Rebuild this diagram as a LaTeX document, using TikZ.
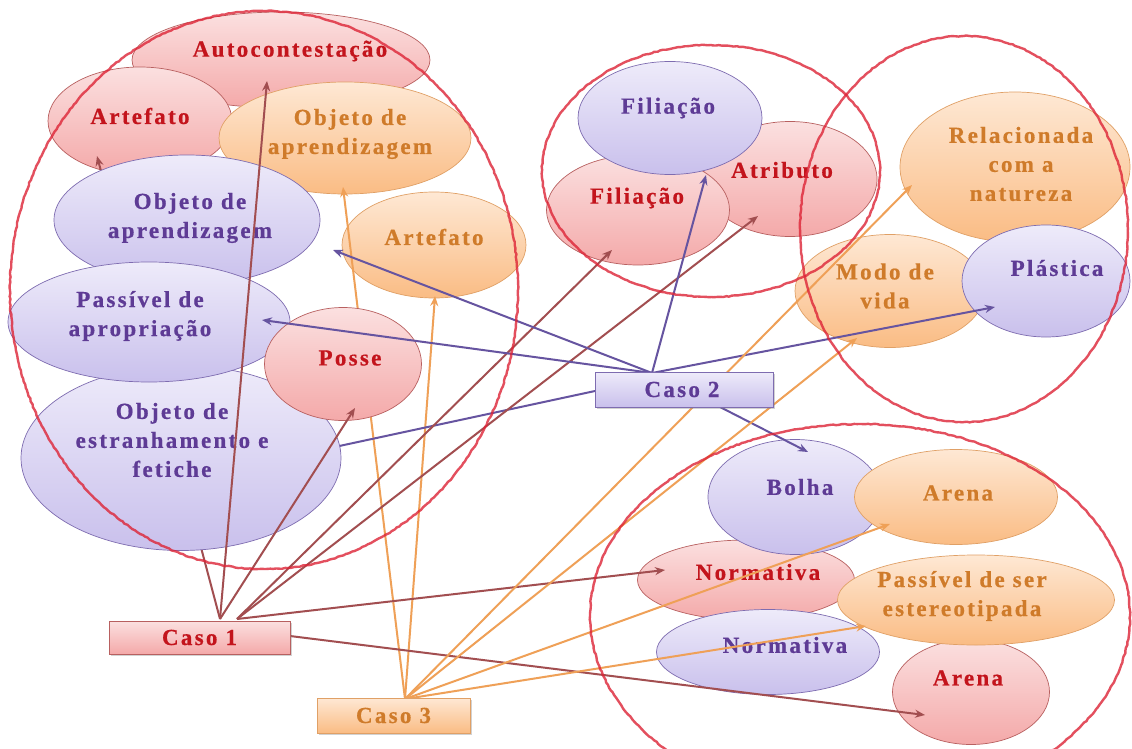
\documentclass[tikz,border=0pt]{standalone}
\usepackage{fontspec}
\newfontfamily\lblfont{Liberation Serif}[LetterSpace=10,FakeBold=0.6]
\usetikzlibrary{shapes.geometric,arrows.meta,shadows,decorations.pathmorphing}
\definecolor{redT}{HTML}{FBE0E0}
\definecolor{redB}{HTML}{F4A9A9}
\definecolor{redS}{HTML}{B86060}
\definecolor{redX}{HTML}{C3141C}
\definecolor{purT}{HTML}{EEEBFA}
\definecolor{purB}{HTML}{C9C0EC}
\definecolor{purS}{HTML}{7E6CB0}
\definecolor{purX}{HTML}{5E3B95}
\definecolor{oraT}{HTML}{FEE8D4}
\definecolor{oraB}{HTML}{FABC84}
\definecolor{oraS}{HTML}{E0A066}
\definecolor{oraX}{HTML}{CF7B2A}
\definecolor{cOne}{HTML}{A24E50}
\definecolor{cTwo}{HTML}{6654A0}
\definecolor{cThree}{HTML}{EFA057}
\definecolor{loopc}{HTML}{DD2436}
\tikzset{
  ell/.style={ellipse, line width=0.7pt, inner sep=0pt},
  redE/.style={ell, draw=redS, top color=redT, bottom color=redB},
  purE/.style={ell, draw=purS, top color=purT, bottom color=purB},
  oraE/.style={ell, draw=oraS, top color=oraT, bottom color=oraB},
  lab/.style={font=\lblfont\bfseries\fontsize{23}{29}\selectfont, align=center, inner sep=0pt},
  redL/.style={lab, text=redX},
  purL/.style={lab, text=purX},
  oraL/.style={lab, text=oraX},
  boxbase/.style={rectangle, line width=0.8pt, inner sep=0pt, drop shadow={opacity=0.35, shadow xshift=2pt, shadow yshift=-2pt}},
  redBox/.style={boxbase, draw=redS, top color=redT, bottom color=redB},
  purBox/.style={boxbase, draw=purS, top color=purT, bottom color=purB},
  oraBox/.style={boxbase, draw=oraS, top color=oraT, bottom color=oraB},
  tip/.style={-{Stealth[length=10pt,width=8pt]}},
  lOne/.style={draw=cOne, line width=2pt, tip},
  lTwo/.style={draw=cTwo, line width=2pt, tip},
  lThree/.style={draw=cThree, line width=2pt, tip},
  loopline/.style={draw=loopc, line width=2.4pt, opacity=0.8, decorate, decoration={random steps, segment length=3pt, amplitude=0.5pt}},
}
\begin{document}
\begin{tikzpicture}[x=1pt, y=-1pt]
\clip (0,0) rectangle (1132,749);
\useasboundingbox (0,0) rectangle (1132,749);
\fill[white] (0,0) rectangle (1132,749);

% named coordinates for line ends
\coordinate (o1) at (220,619);
\coordinate (o1b) at (237,619);
\coordinate (o2) at (652,373);
\coordinate (o3) at (405,699);
\coordinate (t-autoc) at (267,81);
\coordinate (t-artR) at (97,156);
\coordinate (t-posR) at (355,408);
\coordinate (t-filR) at (612,250);
\coordinate (t-atrR) at (758,216);
\coordinate (t-norR) at (665,570);
\coordinate (t-areR) at (925,715);
\coordinate (t-objP) at (333,250);
\coordinate (t-pasP) at (262,320);
\coordinate (t-filP) at (706,175);
\coordinate (t-plaP) at (995,307);
\coordinate (t-estP) at (330,448);
\coordinate (t-bolP) at (808,452);
\coordinate (t-objO) at (343,187);
\coordinate (t-artO) at (435,296);
\coordinate (t-relO) at (912,185);
\coordinate (t-modO) at (857,338);
\coordinate (t-areO) at (890,524);
\coordinate (t-pssO) at (866,626);

% ---------- left group ----------
\node[redE, minimum width=298pt, minimum height=96pt] (autoc) at (281,60) {};
\node[redL] (autoc-t) at (290,51) {Autocontestação};
\node[redE, minimum width=184pt, minimum height=108pt] (artR) at (140,121) {};
\node[redL] (artR-t) at (140,116) {Artefato};
\draw[lOne] (o1) -- (t-artR);
\node[oraE, minimum width=252pt, minimum height=112pt] (objO) at (345,138) {};
\node[oraL] (objO-t) at (350,134) {Objeto de\\aprendizagem};
\node[oraE, minimum width=184pt, minimum height=106pt] (artO) at (434,245) {};
\node[oraL] (artO-t) at (434,237) {Artefato};
\draw[lThree] (o3) -- (t-objO);
\draw[lThree] (o3) -- (t-artO);
\node[purE, minimum width=266pt, minimum height=130pt] (objP) at (187,220) {};
\node[purL] (objP-t) at (190,218) {Objeto de\\aprendizagem};
\draw[lTwo] (595,391) -- (t-estP);
\node[purE, minimum width=320pt, minimum height=185pt] (estP) at (181,458) {};
\node[purL] (estP-t) at (172,440) {Objeto de\\estranhamento e\\fetiche};
\node[purE, minimum width=282pt, minimum height=120pt] (pasP) at (149,322) {};
\node[purL] (pasP-t) at (140,316) {Passível de\\apropriação};
\node[redE, minimum width=157pt, minimum height=113pt] (posR) at (343,364) {};
\node[redL] (posR-t) at (350,358) {Posse};

% ---------- middle group ----------
\node[redE, minimum width=174pt, minimum height=115pt] (atrR) at (790,179) {};
\node[redL] (atrR-t) at (782,170) {Atributo};
\node[redE, minimum width=183pt, minimum height=110pt] (filR) at (638,210) {};
\node[redL] (filR-t) at (637,198) {Filiação};
\node[purE, minimum width=184pt, minimum height=113pt] (filP) at (670,118) {};
\node[purL] (filP-t) at (668,108) {Filiação};

% ---------- right group ----------
\node[oraE, minimum width=230pt, minimum height=150pt] (relO) at (1015,167) {};
\node[oraL] (relO-t) at (1021,164) {Relacionada\\com a\\natureza};
\node[oraE, minimum width=190pt, minimum height=113pt] (modO) at (890,291) {};
\node[oraL] (modO-t) at (885,286) {Modo de\\vida};
\node[purE, minimum width=168pt, minimum height=112pt] (plaP) at (1046,281) {};
\node[purL] (plaP-t) at (1057,268) {Plástica};

% ---------- bottom right group ----------
\node[redE, minimum width=217pt, minimum height=80pt] (norR) at (746,580) {};
\node[redL] (norR-t) at (758,572) {Normativa};
\node[purE, minimum width=174pt, minimum height=115pt] (bolP) at (795,497) {};
\node[purL] (bolP-t) at (800,487) {Bolha};
\node[oraE, minimum width=203pt, minimum height=95pt] (areO) at (956,497) {};
\node[oraL] (areO-t) at (958,493) {Arena};
\node[purE, minimum width=223pt, minimum height=85pt] (norP) at (768,652) {};
\node[purL] (norP-t) at (785,645) {Normativa};
\node[redE, minimum width=157pt, minimum height=105pt] (areR) at (971,692) {};
\node[redL] (areR-t) at (968,678) {Arena};
\node[oraE, minimum width=277pt, minimum height=90pt] (pssO) at (976,600) {};
\node[oraL] (pssO-t) at (962,596) {Passível de ser\\estereotipada};

% ---------- lines on top ----------
\draw[lOne] (o1) -- (t-autoc);
\draw[lOne] (o1) -- (t-posR);
\draw[lOne] (o1b) -- (t-filR);
\draw[lOne] (o1b) -- (t-atrR);
\draw[lOne] (o1b) -- (t-norR);
\draw[lOne] (290,636) -- (t-areR);
\draw[lTwo] (o2) -- (t-objP);
\draw[lTwo] (o2) -- (t-pasP);
\draw[lTwo] (o2) -- (t-filP);
\draw[lTwo] (o2) -- (t-plaP);
\draw[lTwo] (720,407) -- (t-bolP);
\draw[lThree] (o3) -- (t-relO);
\draw[lThree] (o3) -- (t-modO);
\draw[lThree] (o3) -- (t-areO);
\draw[lThree] (o3) -- (t-pssO);

% ---------- boxes ----------
\node[redBox, minimum width=181pt, minimum height=33pt] (caso1) at (199.5,637.5) {};
\node[redL] (caso1-t) at (199.5,637.5) {Caso 1};
\node[purBox, minimum width=178pt, minimum height=35pt] (caso2) at (684,389.5) {};
\node[purL] (caso2-t) at (682,389.5) {Caso 2};
\node[oraBox, minimum width=153pt, minimum height=35pt] (caso3) at (393.5,715.5) {};
\node[oraL] (caso3-t) at (393.5,715.5) {Caso 3};

% ---------- hand-drawn loops ----------
\draw[loopline] (264,290) ellipse [x radius=254pt, y radius=279pt];
\draw[loopline] (711,171) ellipse [x radius=169pt, y radius=126pt];
\draw[loopline] (964,229) ellipse [x radius=164pt, y radius=193pt];
\draw[loopline] (860,616) ellipse [x radius=270pt, y radius=192pt];
\end{tikzpicture}
\end{document}
